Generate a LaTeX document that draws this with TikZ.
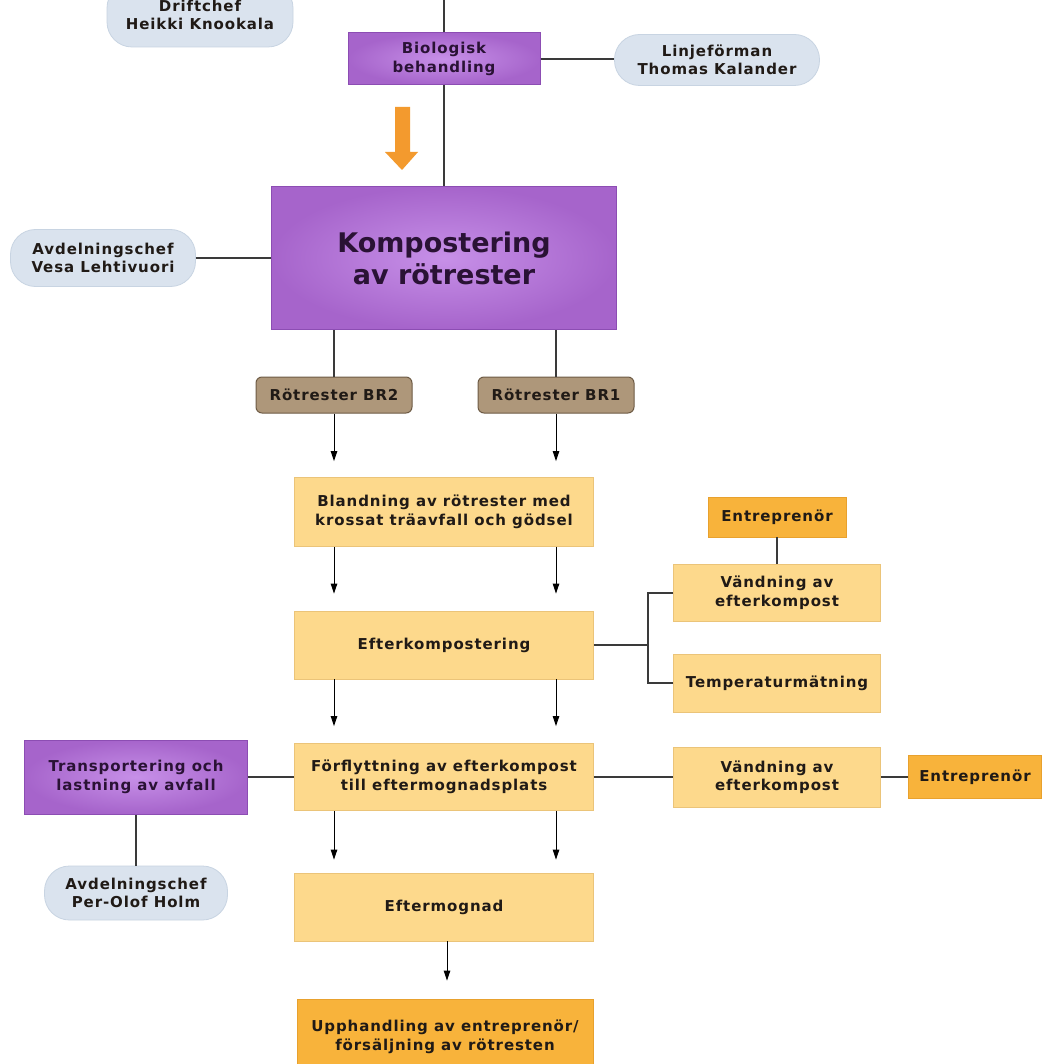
\documentclass[tikz,border=0pt]{standalone}
\usepackage{fontspec}
\newfontfamily\vf{DejaVu Sans}[LetterSpace=6]
\newfontfamily\vfbig{DejaVu Sans}
\usetikzlibrary{arrows.meta}
\definecolor{purp}{HTML}{A664CB}
\definecolor{purpin}{HTML}{C790E8}
\definecolor{purpedge}{HTML}{8C4DB3}
\definecolor{pillc}{HTML}{DAE3EE}
\definecolor{pilledge}{HTML}{C8D4E2}
\definecolor{lor}{HTML}{FDD98C}
\definecolor{loredge}{HTML}{EBC479}
\definecolor{dor}{HTML}{F8B33B}
\definecolor{doredge}{HTML}{E8A12E}
\definecolor{brn}{HTML}{AE977A}
\definecolor{brnedge}{HTML}{6E5B45}
\definecolor{conn}{HTML}{3A3A3A}
\definecolor{arrc}{HTML}{F39A2E}
\definecolor{txt}{HTML}{201A16}
\definecolor{ptxt}{HTML}{2A1235}
\tikzset{
  base/.style={font=\vf\bfseries\fontsize{15}{18.5}\selectfont, align=center, inner sep=0pt, text=txt},
  purpbox/.style={base, text=ptxt, draw=purpedge, line width=1pt, inner color=purpin, outer color=purp},
  pillbox/.style={base, fill=pillc, draw=pilledge, line width=0.8pt, rounded corners=25pt},
  lorbox/.style={base, fill=lor, draw=loredge, line width=0.8pt},
  dorbox/.style={base, fill=dor, draw=doredge, line width=0.8pt},
  brnbox/.style={base, fill=brn, draw=brnedge, line width=1pt, rounded corners=6pt},
  conn/.style={draw=conn, line width=1.4pt},
  arrow/.style={draw=black, line width=1pt, -{Triangle[width=6.5pt,length=10pt]}}
}
\begin{document}
\begin{tikzpicture}[x=1pt,y=-1pt]
\useasboundingbox[fill=white] (0,0) rectangle (1042,1064);
% nodes
\node[pillbox, minimum width=186pt, minimum height=64pt] (drift) at (200,15) {Driftchef\\Heikki Knookala};
\node[purpbox, minimum width=192pt, minimum height=52pt] (bio) at (444,59) {Biologisk\\behandling};
\node[pillbox, minimum width=205pt, minimum height=51pt] (linje) at (717,60) {Linjeförman\\Thomas Kalander};
\node[pillbox, minimum width=185pt, minimum height=57pt] (vesa) at (103,258) {Avdelningschef\\Vesa Lehtivuori};
\node[purpbox, font=\vfbig\bfseries\fontsize{27}{32}\selectfont, minimum width=345pt, minimum height=143pt] (komp) at (444,258) {Kompostering\\av rötrester};
\node[brnbox, minimum width=156pt, minimum height=36pt] (br2) at (334,395) {Rötrester BR2};
\node[brnbox, minimum width=156pt, minimum height=36pt] (br1) at (556,395) {Rötrester BR1};
\node[lorbox, minimum width=299pt, minimum height=69pt] (bland) at (444,512) {Blandning av rötrester med\\krossat träavfall och gödsel};
\node[lorbox, minimum width=299pt, minimum height=68pt] (efter) at (444,645) {Efterkompostering};
\node[dorbox, minimum width=138pt, minimum height=40pt] (entr1) at (777,517) {Entreprenör};
\node[lorbox, minimum width=207pt, minimum height=57pt] (vand1) at (777,593) {Vändning av\\efterkompost};
\node[lorbox, minimum width=207pt, minimum height=58pt] (temp) at (777,683) {Temperaturmätning};
\node[lorbox, minimum width=299pt, minimum height=67pt] (forfl) at (444,777) {Förflyttning av efterkompost\\till eftermognadsplats};
\node[purpbox, minimum width=223pt, minimum height=74pt] (trans) at (136,777) {Transportering och\\lastning av avfall};
\node[pillbox, minimum width=183pt, minimum height=54pt] (holm) at (136,893) {Avdelningschef\\Per-Olof Holm};
\node[lorbox, minimum width=207pt, minimum height=60pt] (vand2) at (777,777) {Vändning av\\efterkompost};
\node[dorbox, minimum width=133pt, minimum height=43pt] (entr2) at (975,777) {Entreprenör};
\node[lorbox, minimum width=299pt, minimum height=68pt] (eftm) at (444,907) {Eftermognad};
\node[dorbox, minimum width=296pt, minimum height=76pt] (upph) at (445,1037) {Upphandling av entreprenör/\\försäljning av rötresten};
% orange block arrow
\fill[arrc] (395,107) -- (410,107) -- (410,152) -- (418,152) -- (402,170) -- (385,152) -- (395,152) -- cycle;
% connectors
\coordinate (topend) at (444,-4);
\draw[conn] (topend) -- (bio.north);
\draw[conn] (bio.south) -- (komp.north);
\draw[conn] (bio.east) -- (bio.east -| linje.west);
\draw[conn] (vesa.east) -- (komp.west);
\draw[conn] (br2.north |- komp.south) -- (br2.north);
\draw[conn] (br1.north |- komp.south) -- (br1.north);
\draw[arrow] (br2.south) -- ([yshift=16pt]bland.north -| br2.south);
\draw[arrow] (br1.south) -- ([yshift=16pt]bland.north -| br1.south);
\draw[arrow] (bland.south -| br2.south) -- ([yshift=17pt]efter.north -| br2.south);
\draw[arrow] (bland.south -| br1.south) -- ([yshift=17pt]efter.north -| br1.south);
\draw[arrow] (efter.south -| br2.south) -- ([yshift=17pt]forfl.north -| br2.south);
\draw[arrow] (efter.south -| br1.south) -- ([yshift=17pt]forfl.north -| br1.south);
\draw[arrow] (forfl.south -| br2.south) -- ([yshift=13pt]eftm.north -| br2.south);
\draw[arrow] (forfl.south -| br1.south) -- ([yshift=13pt]eftm.north -| br1.south);
\draw[arrow] ([xshift=3pt]eftm.south) -- ([xshift=3pt,yshift=18pt]upph.north -| eftm.south);
\draw[conn] (entr1.south) -- (vand1.north);
\coordinate (junc) at (648,645);
\draw[conn] (efter.east) -- (junc);
\draw[conn] (vand1.west) -| (junc);
\draw[conn] (temp.west) -| (junc);
\draw[conn] (trans.east) -- (forfl.west);
\draw[conn] (trans.south) -- (holm.north);
\draw[conn] (forfl.east) -- (vand2.west);
\draw[conn] (vand2.east) -- (entr2.west);
\end{tikzpicture}
\end{document}
